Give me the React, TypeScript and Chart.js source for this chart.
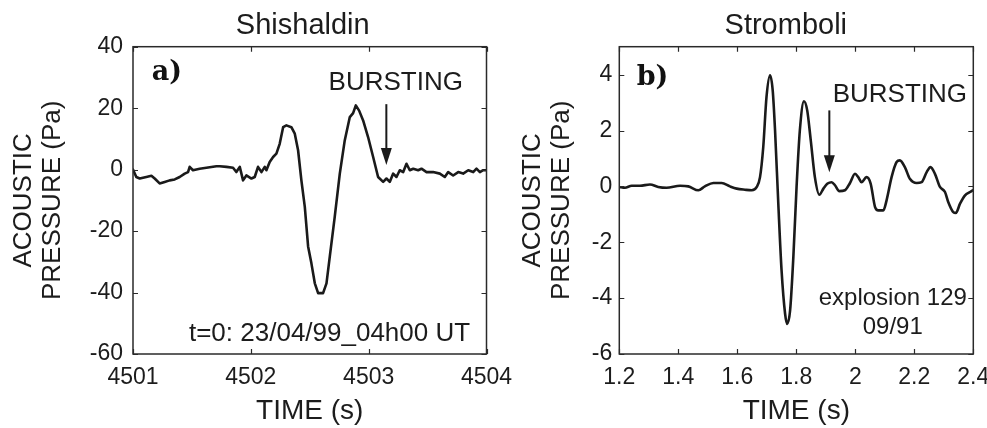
import React, { useEffect, useRef } from 'react';
import { Chart, registerables } from 'chart.js';

Chart.register(...registerables);

// ---------- data ----------
const shishaldinTime = [
  4501.0, 4501.028, 4501.057, 4501.113, 4501.156, 4501.184, 4501.226, 4501.269, 4501.311, 4501.354,
  4501.396, 4501.439, 4501.467, 4501.481, 4501.509, 4501.566, 4501.623, 4501.708, 4501.736, 4501.793,
  4501.849, 4501.877, 4501.906, 4501.934, 4501.962, 4502.005, 4502.033, 4502.061, 4502.09, 4502.118,
  4502.132, 4502.16, 4502.189, 4502.217, 4502.245, 4502.274, 4502.302, 4502.344, 4502.373, 4502.401,
  4502.429, 4502.458, 4502.486, 4502.514, 4502.543, 4502.571, 4502.613, 4502.642, 4502.67, 4502.712,
  4502.755, 4502.797, 4502.84, 4502.868, 4502.891, 4502.919, 4502.953, 4502.995, 4503.038, 4503.08,
  4503.123, 4503.151, 4503.179, 4503.208, 4503.236, 4503.264, 4503.293, 4503.321, 4503.349, 4503.378,
  4503.42, 4503.448, 4503.491, 4503.547, 4503.604, 4503.646, 4503.675, 4503.717, 4503.76, 4503.802,
  4503.845, 4503.887, 4503.915, 4503.944, 4503.972, 4504.0,
];
const shishaldinPressure = [
  0, -2.4, -2.9, -2.4, -2.0, -2.9, -4.5, -4.0, -3.5, -3.2,
  -2.4, -1.3, -0.8, 0.9, -0.2, 0.3, 0.6, 1.1, 1.1, 0.9,
  0.6, -0.8, 0.9, -3.5, -1.9, -2.9, -2.4, 0.9, -0.8, 0.9,
  -0.2, 2.5, 4.1, 5.2, 8.4, 13.8, 14.4, 13.8, 11.7, 6.3,
  -3.5, -12.1, -25, -30.5, -37, -40.2, -40.2, -37, -28.3, -15.4,
  -1.3, 9.5, 17.1, 18.4, 20.9, 19.2, 16, 10.6, 4.1, -2.4,
  -4, -2.9, -4, -1.3, -2.4, -0.2, -0.8, 1.9, -0.2, 0.3,
  -0.2, 0.3, -0.8, -0.8, -1.3, -2.4, -0.8, -1.9, -0.8, -1.3,
  -0.2, -0.8, 0.3, -0.8, -0.2, -0.2,
];

const stromboliTime = [
  1.2, 1.219, 1.242, 1.27, 1.304, 1.332, 1.36, 1.406, 1.434, 1.468,
  1.49, 1.519, 1.547, 1.575, 1.598, 1.626, 1.649, 1.666, 1.677, 1.688,
  1.699, 1.711, 1.72, 1.728, 1.739, 1.75, 1.762, 1.769, 1.779, 1.79,
  1.801, 1.812, 1.826, 1.837, 1.849, 1.863, 1.878, 1.892, 1.906, 1.92,
  1.931, 1.946, 1.965, 1.982, 1.999, 2.01, 2.021, 2.038, 2.052, 2.067,
  2.078, 2.095, 2.106, 2.123, 2.14, 2.151, 2.168, 2.185, 2.208, 2.225,
  2.242, 2.255, 2.27, 2.287, 2.304, 2.315, 2.332, 2.341, 2.355, 2.372,
  2.389, 2.398,
];
const stromboliPressure = [
  -0.02, -0.05, 0.02, 0.02, 0.07, -0.02, -0.05, 0.02, 0, -0.14,
  0, 0.12, 0.12, 0, -0.08, -0.12, -0.14, -0.02, 0.33, 1.41,
  3.2, 3.98, 3.44, 2.0, -0.62, -3.0, -4.56, -4.92, -4.44, -2.53,
  0, 2.0, 3.05, 2.72, 1.65, 0.33, -0.3, -0.08, 0.1, 0.15,
  0.04, -0.17, -0.14, 0.12, 0.45, 0.33, 0.15, 0.33, 0.1, -0.74,
  -0.86, -0.86, -0.5, 0.33, 0.87, 0.93, 0.69, 0.27, 0.12, 0.15,
  0.51, 0.69, 0.45, -0.02, -0.2, -0.56, -0.92, -0.95, -0.62, -0.32,
  -0.2, -0.14,
];

const shishaldinXTicks = [4501, 4502, 4503, 4504];
const shishaldinXLabels = ['4501', '4502', '4503', '4504'];
const shishaldinYTicks = [-60, -40, -20, 0, 20, 40];
const shishaldinYLabels = ['-60', '-40', '-20', '0', '20', '40'];

const stromboliXTicks = [1.2, 1.4, 1.6, 1.8, 2.0, 2.2, 2.4];
const stromboliXLabels = ['1.2', '1.4', '1.6', '1.8', '2', '2.2', '2.4'];
const stromboliYTicks = [-6, -4, -2, 0, 2, 4];
const stromboliYLabels = ['-6', '-4', '-2', '0', '2', '4'];

const panelTitles = ['Shishaldin', 'Stromboli'];
const xAxisTitle = 'TIME (s)';
const yAxisTitle = ['ACOUSTIC', 'PRESSURE (Pa)'];

// ---------- styling ----------
const SANS = "'Liberation Sans', Arial, Helvetica, sans-serif";
const INK = '#1a1a1a';
const TEXT = '#1c1c1c';

type Note = { text: string; x: number; y: number; size: number; align: CanvasTextAlign; bold?: boolean };
type Arrow = { x: number; yTop: number; yTip: number };

type Panel = {
  title: string;
  titleShift: number;
  times: number[];
  values: number[];
  xMin: number; xMax: number; yMin: number; yMax: number;
  xTicks: number[]; xLabels: string[];
  yTicks: number[]; yLabels: string[];
  yAxisWidth: number;
  rightPad: number;
  yTitlePad: number;
  yTickPad: number;
  smooth: boolean;
  notes: Note[];
  arrow: Arrow;
};

const panelA: Panel = {
  title: panelTitles[0],
  titleShift: -7,
  times: shishaldinTime,
  values: shishaldinPressure,
  xMin: 4501, xMax: 4504, yMin: -60, yMax: 40,
  xTicks: shishaldinXTicks, xLabels: shishaldinXLabels,
  yTicks: shishaldinYTicks, yLabels: shishaldinYLabels,
  yAxisWidth: 133,
  rightPad: 33.5,
  yTitlePad: 10,
  yTickPad: 10,
  smooth: false,
  notes: [
    { text: 'a)', x: 4501.16, y: 31.5, size: 27, align: 'left', bold: true },
    { text: 'BURSTING', x: 4503.23, y: 28.2, size: 26, align: 'center' },
    { text: 't=0: 23/04/99_04h00 UT', x: 4502.668, y: -53.3, size: 26, align: 'center' },
  ],
  arrow: { x: 4503.15, yTop: 21.3, yTip: 1.5 },
};

const panelB: Panel = {
  title: panelTitles[1],
  titleShift: -10.5,
  times: stromboliTime,
  values: stromboliPressure,
  xMin: 1.2, xMax: 2.4, yMin: -6, yMax: 5,
  xTicks: stromboliXTicks, xLabels: stromboliXLabels,
  yTicks: stromboliYTicks, yLabels: stromboliYLabels,
  yAxisWidth: 119.3,
  rightPad: 13.7,
  yTitlePad: 19,
  yTickPad: 7,
  smooth: true,
  notes: [
    { text: 'b)', x: 1.259, y: 3.87, size: 27, align: 'left', bold: true },
    { text: 'BURSTING', x: 2.151, y: 3.26, size: 26, align: 'center' },
    { text: 'explosion 129', x: 2.127, y: -4.0, size: 24, align: 'center' },
    { text: '09/91', x: 2.127, y: -5.03, size: 24, align: 'center' },
  ],
  arrow: { x: 1.912, yTop: 2.72, yTip: 0.51 },
};

function makeDecor(p: Panel) {
  return {
    id: 'panelDecor',
    afterDatasetsDraw(chart: any) {
      const { ctx, chartArea } = chart;
      const { left, right, top, bottom } = chartArea;
      const xs = chart.scales.x;
      const ys = chart.scales.y;
      ctx.save();
      // frame
      ctx.strokeStyle = '#2a2a2a';
      ctx.lineWidth = 1.5;
      ctx.strokeRect(left, top, right - left, bottom - top);
      // inward ticks on all four sides
      const L = 5;
      ctx.beginPath();
      p.xTicks.forEach((v) => {
        const px = Math.round(xs.getPixelForValue(v)) + 0.5;
        ctx.moveTo(px, bottom); ctx.lineTo(px, bottom - L);
        ctx.moveTo(px, top); ctx.lineTo(px, top + L);
      });
      p.yTicks.forEach((v) => {
        const py = Math.round(ys.getPixelForValue(v)) + 0.5;
        ctx.moveTo(left, py); ctx.lineTo(left + L, py);
        ctx.moveTo(right, py); ctx.lineTo(right - L, py);
      });
      ctx.lineWidth = 1.2;
      ctx.stroke();

      // panel title
      ctx.fillStyle = TEXT;
      ctx.textBaseline = 'middle';
      ctx.textAlign = 'center';
      ctx.font = `29px ${SANS}`;
      ctx.fillText(p.title, (left + right) / 2 + p.titleShift, 26);

      // notes
      p.notes.forEach((n) => {
        ctx.font = n.bold ? `bold ${n.size}px 'DejaVu Serif', serif` : `${n.size}px ${SANS}`;
        ctx.fillStyle = n.bold ? '#111' : TEXT;
        ctx.textAlign = n.align;
        ctx.fillText(n.text, xs.getPixelForValue(n.x), ys.getPixelForValue(n.y));
      });

      // arrow
      const ax = xs.getPixelForValue(p.arrow.x);
      const ay0 = ys.getPixelForValue(p.arrow.yTop);
      const ay1 = ys.getPixelForValue(p.arrow.yTip);
      const headLen = 17;
      const headHalf = 5.5;
      ctx.strokeStyle = INK;
      ctx.lineWidth = 2;
      ctx.beginPath();
      ctx.moveTo(ax, ay0);
      ctx.lineTo(ax, ay1 - headLen + 2);
      ctx.stroke();
      ctx.fillStyle = INK;
      ctx.beginPath();
      ctx.moveTo(ax - headHalf, ay1 - headLen);
      ctx.lineTo(ax + headHalf, ay1 - headLen);
      ctx.lineTo(ax, ay1);
      ctx.closePath();
      ctx.fill();
      ctx.restore();
    },
  };
}

function makeConfig(p: Panel): any {
  const points = p.times.map((t, i) => ({ x: t, y: p.values[i] }));
  return {
    type: 'line',
    data: {
      datasets: [
        {
          data: points,
          borderColor: INK,
          borderWidth: 2.6,
          pointRadius: 0,
          fill: false,
          tension: p.smooth ? 0.4 : 0,
          cubicInterpolationMode: p.smooth ? 'monotone' : 'default',
          borderJoinStyle: 'round',
          borderCapStyle: 'round',
        },
      ],
    },
    options: {
      responsive: false,
      maintainAspectRatio: false,
      animation: false,
      devicePixelRatio: 1,
      events: [],
      layout: { padding: { left: 0, right: p.rightPad, top: 46.7, bottom: 0 } },
      plugins: {
        legend: { display: false },
        tooltip: { enabled: false },
        title: { display: false },
      },
      scales: {
        x: {
          type: 'linear',
          min: p.xMin,
          max: p.xMax,
          afterBuildTicks: (s: any) => { s.ticks = p.xTicks.map((v) => ({ value: v })); },
          afterFit: (s: any) => { s.height = 74; s.paddingLeft = 0; s.paddingRight = 0; },
          ticks: {
            callback: (_v: any, i: number) => p.xLabels[i],
            font: { family: SANS, size: 23 },
            color: TEXT,
            padding: 10,
            maxRotation: 0,
            autoSkip: false,
          },
          grid: { display: false, drawTicks: false },
          border: { display: false },
          title: {
            display: true,
            text: xAxisTitle,
            font: { family: SANS, size: 28 },
            color: TEXT,
            padding: { top: 0, bottom: 0 },
          },
        },
        y: {
          type: 'linear',
          min: p.yMin,
          max: p.yMax,
          afterBuildTicks: (s: any) => { s.ticks = p.yTicks.map((v) => ({ value: v })); },
          afterFit: (s: any) => { s.width = p.yAxisWidth; s.paddingTop = 0; s.paddingBottom = 0; },
          ticks: {
            callback: (_v: any, i: number) => p.yLabels[i],
            font: { family: SANS, size: 23 },
            color: TEXT,
            padding: p.yTickPad,
            autoSkip: false,
          },
          grid: { display: false, drawTicks: false },
          border: { display: false },
          title: {
            display: true,
            text: yAxisTitle,
            font: { family: SANS, size: 26, lineHeight: 1.1 },
            color: TEXT,
            padding: { top: p.yTitlePad, bottom: 0 },
          },
        },
      },
    },
    plugins: [makeDecor(p)],
  };
}

function PanelChart({ panel, left, width }: { panel: Panel; left: number; width: number }) {
  const ref = useRef<HTMLCanvasElement | null>(null);
  useEffect(() => {
    if (!ref.current) return;
    const chart = new Chart(ref.current, makeConfig(panel));
    return () => chart.destroy();
  }, [panel]);
  return (
    <canvas
      ref={ref}
      width={width}
      height={428}
      style={{ position: 'absolute', left, top: 0, width, height: 428 }}
    />
  );
}

export default function App() {
  return (
    <div style={{ position: 'absolute', left: 0, top: 0, width: 987, height: 428, background: '#fff' }}>
      <PanelChart panel={panelA} left={0} width={520} />
      <PanelChart panel={panelB} left={500} width={487} />
    </div>
  );
}
